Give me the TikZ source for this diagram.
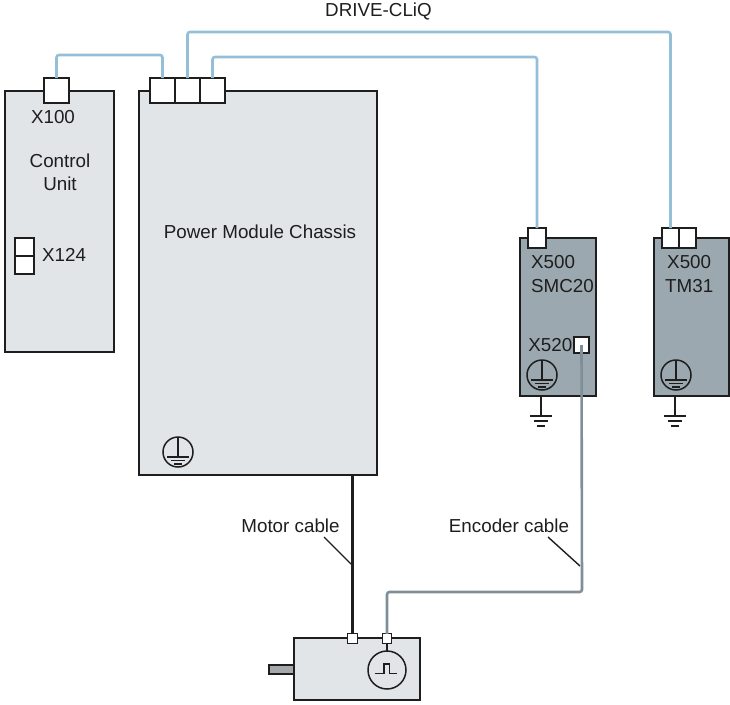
\documentclass[tikz,border=0pt]{standalone}
\usepackage{fontspec}
\setmainfont{Liberation Sans}
\definecolor{lightbox}{HTML}{E1E5E8}
\definecolor{darkbox}{HTML}{9CA8AF}
\definecolor{shaftgrey}{HTML}{A6A8AA}
\definecolor{cliq}{HTML}{94BFD6}
\definecolor{enc}{HTML}{7F8F99}
\definecolor{ink}{HTML}{1E1E1E}
\tikzset{
  unitbox/.style={draw=ink,line width=1.7pt,anchor=north west,inner sep=0pt,outer sep=0pt},
  lightunit/.style={unitbox,fill=lightbox},
  darkunit/.style={unitbox,fill=darkbox},
  port/.style={draw=ink,line width=1.7pt,fill=white,anchor=north west,inner sep=0pt,outer sep=0pt,minimum width=#1,minimum height=25pt},
  smallport/.style={draw=ink,line width=1.3pt,fill=white,inner sep=0pt,outer sep=0pt,minimum width=#1,minimum height=#1},
  label/.style={font=\fontsize{18.8}{22}\selectfont,text=ink,inner sep=0pt},
  cliqcable/.style={draw=cliq,line width=2.6pt,rounded corners=2.5pt},
  enccable/.style={draw=enc,line width=2.6pt,rounded corners=2.5pt},
  earthcircle/.style={circle,draw=ink,line width=1.5pt,minimum size=30pt,inner sep=0pt,outer sep=0pt},
  leader/.style={draw=ink,line width=1.4pt},
  symline/.style={draw=ink,line width=1.3pt}
}
\newcommand{\peSymbol}[1]{%
  \draw[symline] (#1.north) -- ([yshift=-5pt]#1.center);
  \draw[symline] ([xshift=-11pt,yshift=-5pt]#1.center) -- ([xshift=11pt,yshift=-5pt]#1.center);
  \draw[symline] ([xshift=-7pt,yshift=-8.5pt]#1.center) -- ([xshift=7pt,yshift=-8.5pt]#1.center);
  \draw[symline] ([xshift=-4pt,yshift=-12pt]#1.center) -- ([xshift=4pt,yshift=-12pt]#1.center);
}
\begin{document}
\begin{tikzpicture}[x=1pt,y=-1pt]
\useasboundingbox (0,0) rectangle (730,704);
% units
\node[lightunit,minimum width=109pt,minimum height=261pt] (cu) at (5,91) {};
\node[lightunit,minimum width=238pt,minimum height=384pt] (pm) at (139,91) {};
\node[darkunit,minimum width=76pt,minimum height=158pt] (smc) at (520,238) {};
\node[darkunit,minimum width=75pt,minimum height=158pt] (tm) at (654,238) {};
\node[lightunit,minimum width=126pt,minimum height=62pt] (motor) at (294,638) {};
\node[unitbox,fill=shaftgrey,minimum width=25pt,minimum height=9pt] (shaft) at (269,665) {};
% ports
\node[port=25pt] (x100) at (44,78) {};
\node[port=25pt] (pa) at (150,78) {};
\node[port=25pt] (pb) at (175,78) {};
\node[port=25pt] (pc) at (200,78) {};
\node[port=18pt,minimum height=20pt] (x500s) at (528,228) {};
\node[port=17pt,minimum height=20pt] (x500a) at (662,228) {};
\node[port=17pt,minimum height=20pt] (x500b) at (679,228) {};
\node[port=15pt,minimum height=16pt] (x520) at (574,337) {};
\node[port=19pt,minimum height=18pt] (x124a) at (15,238) {};
\node[port=19pt,minimum height=18pt] (x124b) at (15,256) {};
\node[smallport=9.5pt] (mpow) at (352.5,638.5) {};
\node[smallport=9.5pt] (menc) at (387,638.5) {};
% cable routing points
\coordinate (r1a) at (56.5,55);
\coordinate (r2a) at (187.5,32);
\coordinate (r3a) at (212.5,57);
\coordinate (r4a) at (582,592);
% cables
\draw[cliqcable] (x100.north) -- (r1a) -| (pa.north);
\draw[cliqcable] (pb.north) -- (r2a) -| (x500a.north);
\draw[cliqcable] (pc.north) -- (r3a) -| (x500s.north);
\draw[enccable] (x520.center) -- (r4a) -| (menc.north);
\draw[ink,line width=3.4pt] (pm.south -| mpow.north) -- (mpow.north);
% labels
\node[label] (cliqlabel) at (378.5,11) {DRIVE-CLiQ};
\node[label] (l100) at (53,117) {X100};
\node[label,align=center,font=\fontsize{18.8}{23}\selectfont] (lcu) at (60,172) {Control\\Unit};
\node[label,anchor=west] (l124) at (42,255) {X124};
\node[label] (lpm) at (260,232) {Power Module Chassis};
\node[label,anchor=west] (ls1) at (531,262) {X500};
\node[label,anchor=west] (ls2) at (531,286) {SMC20};
\node[label,anchor=east] (l520) at (572.5,345) {X520};
\node[label,anchor=west] (lt1) at (667,262) {X500};
\node[label,anchor=west] (lt2) at (665,286) {TM31};
\node[label] (lmc) at (290.5,526) {Motor cable};
\node[label] (lec) at (509,526) {Encoder cable};
% leaders
\coordinate (lm1) at (324,537);
\coordinate (lm2) at (351,564);
\coordinate (le1) at (548,537);
\coordinate (le2) at (580,566);
\draw[leader] (lm1) -- (lm2);
\draw[leader] (le1) -- (le2);
% PE symbols
\node[earthcircle] (pe1) at (178,452) {}; \peSymbol{pe1}
\node[earthcircle] (pe2) at (542,375) {}; \peSymbol{pe2}
\node[earthcircle] (pe3) at (676,375) {}; \peSymbol{pe3}
% earth stubs
\foreach \n/\x in {a/541,b/675}{
  \coordinate (g\n) at (\x,416);
  \draw[symline] (\x,396) -- (g\n);
  \draw[symline] ([xshift=-11pt]g\n) -- ([xshift=11pt]g\n);
  \draw[symline] ([xshift=-7pt,yshift=-5pt]g\n) -- ([xshift=7pt,yshift=-5pt]g\n);
  \draw[symline] ([xshift=-4pt,yshift=-10pt]g\n) -- ([xshift=4pt,yshift=-10pt]g\n);
}
% encoder on motor
\node[circle,draw=ink,line width=1.5pt,minimum size=38pt,inner sep=0pt,outer sep=0pt] (encsym) at (387,670) {};
\draw[ink,line width=1.5pt] (menc.south) -- (encsym.north);
\draw[ink,line width=1.4pt] (375,673.5) -- (384,673.5) -- (384,664) -- (389.5,664) -- (389.5,673.5) -- (397,673.5);
\end{tikzpicture}
\end{document}
